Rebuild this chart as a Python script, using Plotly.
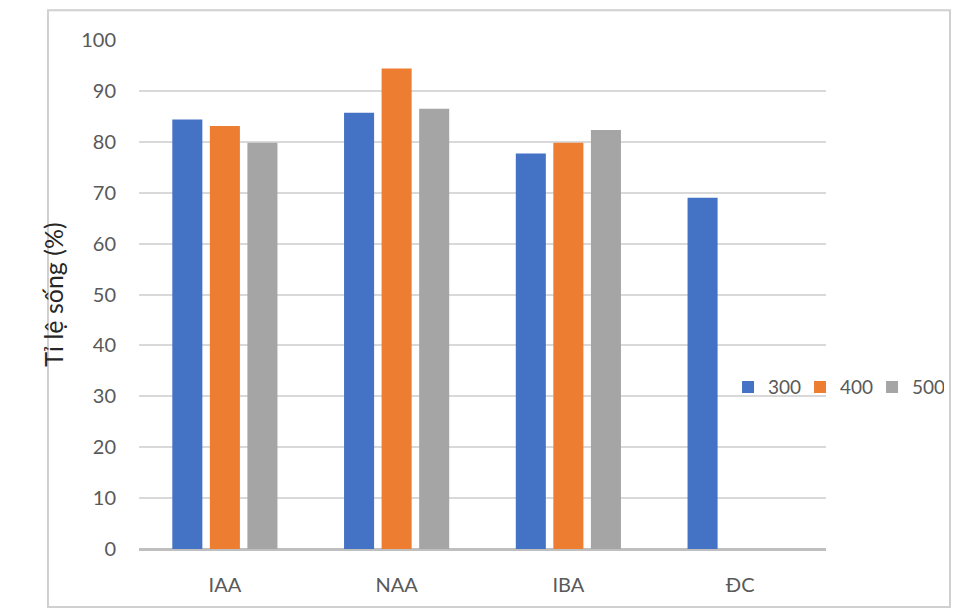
import plotly.graph_objects as go

categories = ["IAA", "NAA", "IBA", "ĐC"]
series_names = ["300", "400", "500"]
values_300 = [84.4, 85.7, 77.7, 69.0]
values_400 = [83.1, 94.4, 79.8, None]
values_500 = [79.8, 86.5, 82.3, None]
colors = ["#4472C4", "#ED7D31", "#A5A5A5"]
y_ticks = list(range(0, 101, 10))

fig = go.Figure()
for name, vals, col in zip(series_names, [values_300, values_400, values_500], colors):
    fig.add_trace(go.Bar(
        x=categories, y=vals, name=name,
        marker=dict(color=col, line=dict(width=0)),
    ))

font_family = "Lato, 'Open Sans', sans-serif"
fig.update_layout(
    width=953, height=613,
    margin=dict(l=139, r=127, t=40, b=64, autoexpand=False),
    paper_bgcolor="white", plot_bgcolor="white",
    barmode="group", bargap=0.344, bargroupgap=0.2,
    font=dict(family=font_family, color="#595959", size=20),
    showlegend=True,
    legend=dict(
        orientation="h", x=0.8574, y=0.318, xanchor="left", yanchor="middle",
        font=dict(size=19, color="#595959"), itemwidth=30,
        entrywidth=27, entrywidthmode="pixels",
        traceorder="normal", bgcolor="rgba(0,0,0,0)",
    ),
    xaxis=dict(
        showgrid=False, showline=False, ticks="",
        ticklabelstandoff=22,
        tickfont=dict(size=20, color="#595959"),
    ),
    yaxis=dict(
        range=[0, 100], tickvals=y_ticks, showgrid=True,
        gridcolor="#D9D9D9", gridwidth=2, zeroline=True,
        zerolinecolor="#BFBFBF", zerolinewidth=3, ticks="",
        ticklabelstandoff=22,
        tickfont=dict(size=20, color="#595959"),
        title=dict(text="Tỉ lệ sống (%)", font=dict(size=25, color="#262626"), standoff=10),
    ),
    shapes=[dict(
        type="rect", xref="paper", yref="paper",
        x0=-0.1325, x1=1.1805, y0=-0.114, y1=1.0585,
        line=dict(color="#D0D0D0", width=2), fillcolor="rgba(0,0,0,0)", layer="below",
    )],
)

fig.write_html("out.html")
